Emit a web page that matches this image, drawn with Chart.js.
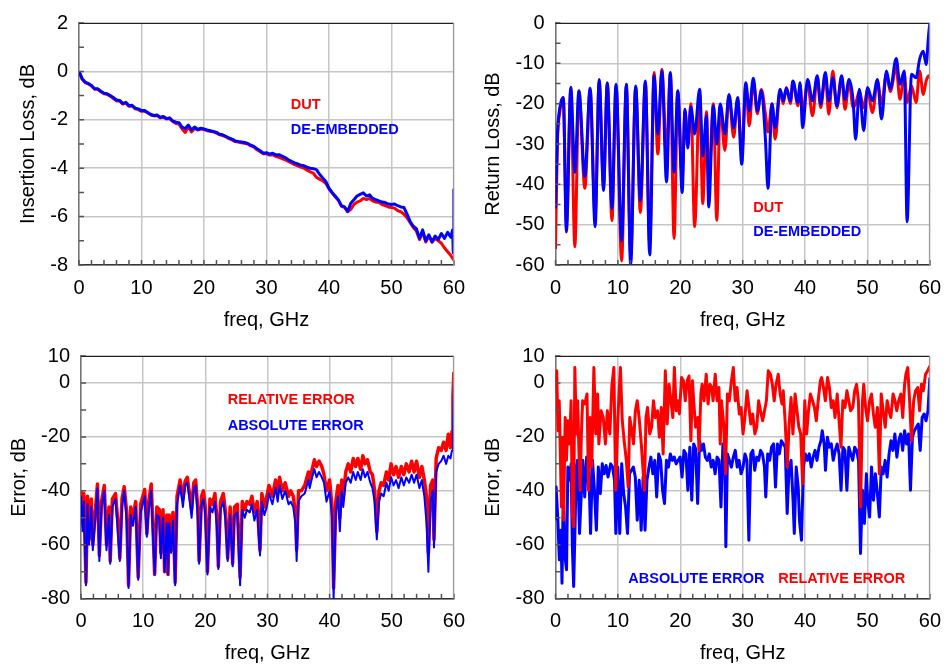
<!DOCTYPE html>
<html>
<head>
<meta charset="utf-8">
<script src="https://cdn.jsdelivr.net/npm/chart.js@4.4.1/dist/chart.umd.min.js"></script>
<style>
  html, body { margin: 0; padding: 0; background: #fff; }
  #wrap { position: relative; width: 952px; height: 666px; }
  canvas { position: absolute; }
</style>
</head>
<body>
<div id="wrap">
  <canvas id="c_il" width="476" height="333" style="left:0;top:0"></canvas>
  <canvas id="c_rl" width="476" height="333" style="left:476px;top:0"></canvas>
  <canvas id="c_err1" width="476" height="333" style="left:0;top:333px"></canvas>
  <canvas id="c_err2" width="476" height="333" style="left:476px;top:333px"></canvas>
</div>
<script>
// ---- insertion loss (top left)
const il_freq = [
  0, 0.5, 1, 1.5, 2, 2.5, 3, 3.5, 4, 4.5,
  5, 5.5, 6, 6.5, 7, 7.5, 8, 8.5, 9, 9.5,
  10, 10.5, 11, 11.5, 12, 12.5, 13, 13.5, 14, 14.5,
  15, 15.5, 16, 16.5, 17, 17.5, 18, 18.5, 19, 19.5,
  20, 20.5, 21, 21.5, 22, 22.5, 23, 23.5, 24, 24.5,
  25, 25.5, 26, 26.5, 27, 27.5, 28, 28.5, 29, 29.5,
  30, 30.5, 31, 31.5, 32, 32.5, 33, 33.5, 34, 34.5,
  35, 35.5, 36, 36.5, 37, 37.5, 38, 38.5, 39, 39.5,
  40, 40.5, 41, 41.5, 42, 42.5, 43, 43.5, 44, 44.5,
  45, 45.5, 46, 46.5, 47, 47.5, 48, 48.5, 49, 49.5,
  50, 50.5, 51, 51.5, 52, 52.5, 53, 53.5, 54, 54.5,
  55, 55.5, 56, 56.5, 57, 57.5, 58, 58.5, 59, 59.5,
  59.8, 59.9, 60
];
const il_deemb = [
  0, -0.3, -0.45, -0.5, -0.58, -0.72, -0.72, -0.82, -0.9, -0.92,
  -1.0, -1.08, -1.18, -1.2, -1.32, -1.28, -1.42, -1.4, -1.52, -1.55,
  -1.62, -1.62, -1.7, -1.78, -1.82, -1.8, -1.9, -1.86, -1.95, -1.92,
  -2.05, -2.1, -2.12, -2.3, -2.36, -2.22, -2.42, -2.3, -2.4, -2.35,
  -2.38, -2.42, -2.45, -2.48, -2.52, -2.6, -2.62, -2.68, -2.75, -2.8,
  -2.87, -2.9, -2.92, -2.94, -2.98, -3.05, -3.1, -3.2, -3.28, -3.38,
  -3.36, -3.42, -3.38, -3.45, -3.44, -3.5, -3.56, -3.65, -3.72, -3.78,
  -3.82, -3.88, -3.9, -3.96, -4.0, -4.02, -4.06, -4.25, -4.4, -4.55,
  -4.82, -5.0, -5.15, -5.3, -5.55, -5.6, -5.78, -5.45, -5.3, -5.15,
  -5.08, -5.02, -5.15, -5.1, -5.25, -5.3, -5.35, -5.4, -5.42, -5.48,
  -5.5, -5.48, -5.55, -5.6, -5.62, -5.9, -6.2, -6.4, -6.5, -6.9,
  -6.55, -7.0, -6.75, -7.05, -6.8, -6.95, -6.7, -6.9, -6.65, -6.85,
  -6.55, -7.5, -4.85
];
const il_dut = [
  0, -0.32, -0.46, -0.52, -0.6, -0.74, -0.74, -0.84, -0.92, -0.95,
  -1.02, -1.12, -1.22, -1.22, -1.35, -1.3, -1.44, -1.43, -1.55, -1.58,
  -1.65, -1.64, -1.72, -1.8, -1.84, -1.82, -1.92, -1.88, -1.97, -1.95,
  -2.07, -2.15, -2.18, -2.38, -2.52, -2.3, -2.5, -2.35, -2.42, -2.38,
  -2.4, -2.45, -2.47, -2.5, -2.55, -2.62, -2.65, -2.7, -2.78, -2.83,
  -2.9, -2.92, -2.95, -2.97, -3.0, -3.08, -3.13, -3.24, -3.32, -3.4,
  -3.4, -3.46, -3.44, -3.52, -3.55, -3.6, -3.65, -3.72, -3.78, -3.85,
  -3.9, -3.95, -4.0, -4.08, -4.15, -4.2, -4.38, -4.45, -4.52, -4.62,
  -4.85, -5.02, -5.18, -5.32, -5.58, -5.62, -5.8, -5.7, -5.5, -5.4,
  -5.35, -5.25, -5.3, -5.25, -5.35, -5.4, -5.42, -5.5, -5.55, -5.6,
  -5.62, -5.65, -5.75, -5.8, -5.9, -6.05, -6.25, -6.45, -6.6, -6.95,
  -6.65, -7.05, -6.8, -7.05, -6.9, -7.0, -7.1, -7.3, -7.45, -7.6,
  -7.72, -7.75, -7.8
];

// ---- return loss (top right)
const rl_freq = [
  0, 0.3, 0.7, 1.25, 1.75, 2.45, 3.1, 3.75, 4.7, 5.55,
  6.35, 7.0, 7.7, 8.3, 9.05, 9.7, 10.6, 11.35, 12.05, 12.85,
  13.6, 14.4, 15.1, 15.8, 16.4, 17.05, 17.8, 18.4, 19.0, 19.6,
  20.3, 20.75, 21.2, 21.7, 22.3, 23.1, 23.6, 24.2, 24.55, 25.3,
  25.85, 26.4, 27.15, 27.8, 28.55, 29.2, 29.85, 30.5, 31.05, 31.7,
  32.35, 33.0, 33.65, 34.05, 34.7, 35.2, 36.0, 36.5, 37.0, 37.65,
  38.05, 38.85, 39.2, 39.6, 40.4, 41.2, 41.95, 42.5, 43.25, 43.8,
  44.45, 45.1, 45.85, 46.4, 47.05, 47.7, 48.1, 48.7, 49.4, 50.0,
  50.8, 51.6, 52.25, 53.05, 53.65, 54.6, 55.2, 55.9, 56.35, 57.05,
  57.8, 58.35, 58.95, 59.4, 59.8, 60
];
const rl_deemb = [
  -46, -28, -21, -18.5, -51.8, -15.9, -37, -16.8, -38, -16.2,
  -50.5, -14, -41.5, -14.8, -46, -15.2, -54, -15.2, -60, -15.6,
  -44, -14.4, -57.5, -13.1, -27.5, -11.9, -39.4, -12.3, -37, -16.8,
  -42, -21.4, -31, -20.8, -27.5, -16.4, -33, -23, -45.6, -20.5,
  -30, -20.1, -27.5, -17.7, -26, -18.5, -35, -14.8, -21.8, -13.7,
  -21.8, -16.8, -29, -41, -20.1, -26, -16.4, -19.3, -16.2, -19.3,
  -14.4, -19.7, -14.8, -26, -14, -19.3, -13.1, -20.1, -12.3, -19.3,
  -13.6, -20.5, -13.1, -18.9, -14, -19.3, -28.8, -16.4, -26.7, -16,
  -19.3, -14, -23.8, -11.9, -16.4, -8.8, -15.2, -11.9, -49.3, -12.7,
  -13.6, -9, -7, -10.3, -2.9, 0
];
const rl_dut = [
  -56, -30, -22, -18.5, -50, -16.5, -55.5, -17, -41, -16.5,
  -48, -14.5, -40, -15, -49, -15.5, -59, -15.5, -58, -15.8,
  -47, -14.8, -55, -12.3, -32.5, -11.5, -32.5, -12.5, -53.4, -17,
  -38, -22, -29, -20, -50.5, -17.5, -44.8, -22, -40, -20,
  -48.9, -20.5, -31.6, -18, -28.3, -19, -32, -15.5, -25.5, -14.5,
  -22.5, -16.5, -22.6, -27, -20, -28.8, -16.8, -20, -16, -20,
  -14.5, -20.5, -15.5, -22, -15, -23, -13.5, -21, -13, -22.6,
  -11.9, -21, -13.5, -21.4, -14.5, -21, -20, -17, -21, -16.5,
  -22.2, -14.5, -20, -12.5, -17, -11.1, -18.9, -12.5, -19.7, -15.6,
  -19.7, -11.9, -17.7, -14.4, -13.1, -13.6
];

// ---- error, first port (bottom left)
const e1_freq = [
  0, 0.25, 0.45, 0.8, 1.05, 1.3, 1.65, 1.9, 2.35, 2.65,
  2.95, 3.3, 3.75, 4.1, 4.5, 4.7, 5.05, 5.55, 5.95, 6.25,
  6.6, 6.95, 7.35, 7.65, 8.0, 8.35, 8.8, 9.2, 9.6, 10.25,
  10.6, 10.9, 11.3, 11.6, 11.85, 12.2, 12.6, 12.85, 13.2, 13.45,
  13.8, 14.0, 14.2, 14.5, 14.8, 15.15, 15.45, 15.95, 16.4, 16.75,
  17.1, 17.4, 17.8, 18.15, 18.45, 18.8, 19.0, 19.4, 19.7, 20.0,
  20.35, 20.75, 21.15, 21.55, 21.85, 22.1, 22.45, 22.9, 23.25, 23.6,
  24.0, 24.4, 24.7, 25.15, 25.6, 25.95, 26.35, 26.7, 27.15, 27.5,
  27.9, 28.35, 28.8, 29.1, 29.5, 29.9, 30.25, 30.8, 31.3, 31.65,
  31.95, 32.4, 32.85, 33.4, 33.75, 34.15, 34.5, 34.7, 35.0, 35.45,
  36.0, 36.6, 36.8, 37.2, 37.55, 37.9, 38.3, 38.75, 39.1, 39.5,
  40.0, 40.4, 40.65, 41.0, 41.35, 41.65, 41.95, 42.2, 42.6, 43.0,
  43.4, 43.8, 44.2, 44.55, 45.0, 45.35, 45.7, 46.1, 46.55, 46.9,
  47.25, 47.6, 47.95, 48.3, 48.7, 49.15, 49.5, 49.9, 50.3, 50.7,
  51.1, 51.55, 51.95, 52.35, 52.8, 53.2, 53.6, 54.0, 54.45, 54.85,
  55.25, 55.6, 55.9, 56.25, 56.6, 56.8, 57.15, 57.55, 57.95, 58.35,
  58.75, 59.1, 59.45, 59.7, 59.85, 60
];
const e1_rel = [
  -40, -52, -41, -74, -42, -58, -43, -60, -46, -37.5,
  -64, -44, -38, -60, -46, -66, -43, -41, -52, -65,
  -43, -38.5, -48, -75, -46, -50, -44, -72, -45, -39.5,
  -56, -44, -37.5, -55, -71, -46, -47, -63, -47, -70,
  -49, -71, -49, -62, -48, -74, -42, -36, -43, -36.5,
  -35, -40, -47, -37, -36, -47, -66, -42, -40, -46,
  -70, -43, -45, -41, -50, -68, -44, -41, -48, -65,
  -46, -67, -46, -45, -72, -44, -47, -44, -45, -42,
  -48, -44, -62, -41, -46, -42, -38, -42, -36, -41,
  -35, -40, -37, -42, -40, -42, -48, -62, -40, -40,
  -38, -33, -36, -32, -28.5, -31, -29, -31, -34, -40,
  -36, -46, -76, -44, -38, -50, -36, -42, -33, -30,
  -33, -28, -31, -28, -32, -27, -30, -28.5, -33, -34,
  -40, -55, -40, -37, -38, -33, -36, -30, -34, -31,
  -35, -31, -34, -30, -33, -29, -33, -29, -35, -31,
  -36, -42, -63, -38, -36, -58, -28, -24, -25, -22,
  -25, -19, -24, -18, -5, 4
];
const e1_abs = [
  -42, -55, -44, -75, -45, -60, -46, -62, -49, -39,
  -66, -46, -40, -62, -49, -67, -46, -43, -56, -66,
  -46, -40, -51, -76, -49, -53, -46, -73, -48, -42,
  -57, -47, -40, -58, -71, -49, -50, -65, -50, -70,
  -52, -71, -52, -63, -51, -75, -45, -38, -46, -38,
  -37, -42, -50, -39, -38, -50, -67, -45, -43, -49,
  -71, -46, -48, -44, -53, -69, -47, -44, -51, -66,
  -49, -68, -49, -48, -75, -47, -50, -47, -48, -45,
  -51, -47, -64, -44, -49, -46, -41, -45, -39, -44,
  -38, -43, -40, -45, -44, -46, -52, -66, -44, -42,
  -41, -36, -39, -35, -32, -35, -33, -35, -37, -44,
  -40, -50, -80, -48, -42, -55, -40, -46, -37, -35,
  -37, -33, -36, -33, -36, -32, -35, -33, -37, -39,
  -44, -58, -44, -41, -42, -37, -40, -35, -38, -36,
  -39, -35, -38, -35, -37, -34, -37, -34, -39, -36,
  -42, -52, -70, -44, -40, -61, -33, -30, -29, -27,
  -30, -27, -28, -25, -15, -1
];

// ---- error, second port (bottom right)
const e2_rel_freq = [
  0, 0.2, 0.4, 0.6, 0.95, 1.15, 1.3, 1.55, 1.75, 2.0,
  2.25, 2.5, 2.7, 2.9, 3.1, 3.35, 3.55, 3.75, 3.95, 4.15,
  4.35, 4.7, 5.05, 5.3, 5.55, 5.8, 6.15, 6.45, 6.75, 6.95,
  7.3, 7.65, 8.0, 8.3, 8.7, 9.05, 9.35, 9.65, 10.0, 10.4,
  10.7, 11.0, 11.35, 11.65, 11.9, 12.15, 12.5, 12.8, 13.1, 13.4,
  13.75, 14.0, 14.25, 14.5, 14.75, 15.1, 15.4, 15.7, 16.0, 16.35,
  16.65, 16.95, 17.25, 17.6, 17.9, 18.2, 18.5, 18.8, 19.05, 19.35,
  19.65, 19.85, 20.2, 20.5, 20.8, 21.1, 21.4, 21.7, 21.95, 22.15,
  22.45, 22.8, 23.0, 23.3, 23.5, 23.8, 24.15, 24.45, 24.75, 25.05,
  25.25, 25.6, 25.9, 26.2, 26.4, 26.6, 26.95, 27.25, 27.55, 27.85,
  28.2, 28.5, 28.8, 29.1, 29.45, 29.75, 30.05, 30.35, 30.7, 31.0,
  31.3, 31.6, 31.95, 32.25, 32.55, 32.85, 33.2, 33.5, 33.8, 34.1,
  34.45, 34.75, 35.05, 35.35, 35.7, 36.0, 36.3, 36.5, 36.8, 37.15,
  37.45, 37.75, 38.05, 38.4, 38.7, 39.0, 39.3, 39.6, 39.95, 40.25,
  40.55, 40.85, 41.2, 41.5, 41.8, 42.1, 42.45, 42.65, 42.95, 43.25,
  43.6, 43.9, 44.2, 44.5, 44.8, 45.15, 45.45, 45.75, 46.05, 46.4,
  46.7, 47.0, 47.3, 47.65, 47.95, 48.25, 48.55, 48.9, 49.2, 49.4,
  49.7, 50.0, 50.35, 50.65, 50.95, 51.25, 51.6, 51.9, 52.2, 52.5,
  52.85, 53.15, 53.45, 53.75, 54.1, 54.4, 54.7, 55.0, 55.35, 55.65,
  55.95, 56.15, 56.45, 56.75, 57.05, 57.4, 57.7, 58.05, 58.35, 58.65,
  58.95, 59.3, 59.65, 60
];
const e2_rel = [
  -3.5, 4.5, -17.7, -6.6, -46, -20.1, -50.9, -12.8, -28.7, -14,
  -22.6, -6.6, -48.4, -53.3, 5.7, -18.9, -6.6, -25, -39.8, -18.9,
  -6.6, -7.8, -4.1, -39.8, -12.8, -31.2, 5.7, -18.9, -4.1, -22.6,
  -10.3, -12.8, -22.6, -10.3, -18.9, -0.5, 5.7, -39.8, -12.8, 5.7,
  -14, -21.4, -28.7, -38.6, -12.8, -16.4, -22.6, -10.3, -6.6, -12.8,
  -22.6, -31.2, -39.8, -12.8, -9.1, -18.9, -16.4, -6.6, -12.8, -10.3,
  -20.1, -9.1, -26.3, 4.5, -15.2, -0.5, -6.6, -12.8, 5.7, -10.3,
  -6.6, -11.5, 2, 0.8, -6.6, 0.8, 2.6, -21.4, 0.8, -6.6,
  -16.4, -12.8, -25, -4.1, -0.5, -6.6, 3.2, -7.8, -0.5, -1.7,
  -6.6, 3.2, -6.6, -1.7, -22.6, -6.6, -15.2, -33.7, -4.1, -6.6,
  0.8, 5.7, -6.6, -1.7, -11.5, -9.1, -18.9, -12.8, -2.9, -9.1,
  -15.2, -11.5, -18.9, -16.4, -6.6, -10.3, -14, -10.3, -6.6, 4.5,
  3.2, -0.5, -6.6, -0.5, 3.2, -4.1, -7.8, -2.9, -14, -31.2,
  -15.2, -5.4, -18.9, -4.1, -10.3, -16.4, -18.9, -37.4, -6.6, -18.9,
  -10.3, -4.1, -6.6, -9.1, -14, -6.6, 0.8, 2, -1.7, -6.6,
  2, -1.7, -9.1, -6.6, -12.8, -4.1, -14, -23.8, -6.6, -9.1,
  -2.9, -6.6, -10.3, -9.1, -2.9, -0.5, -6.6, -46, -6.6, -0.5,
  -9.1, -14, -6.6, -4.1, -11.5, -16.4, -9.1, -33.7, -4.1, -10.3,
  -16.4, -6.6, -10.3, -12.8, -4.1, -6.6, -10.3, -6.6, -4.1, -12.8,
  -0.5, 3.2, 5.7, -6.6, -21.4, -6.6, -2.9, -1.7, -10.3, -0.5,
  -2.9, 3.2, 4.5, 6.3
];
const e2_abs_freq = [
  0, 0.1, 0.36, 0.62, 0.88, 1.04, 1.25, 1.46, 1.77, 1.98,
  2.29, 2.5, 2.7, 2.91, 3.12, 3.33, 3.54, 3.85, 4.16, 4.37,
  4.68, 4.99, 5.3, 5.62, 5.93, 6.24, 6.55, 6.86, 7.18, 7.49,
  7.8, 8.11, 8.42, 8.84, 9.15, 9.46, 9.67, 9.98, 10.3, 10.61,
  10.92, 11.23, 11.54, 11.86, 12.17, 12.48, 12.79, 13.1, 13.42, 13.73,
  14.04, 14.35, 14.66, 14.98, 15.29, 15.6, 15.91, 16.22, 16.54, 16.85,
  17.16, 17.47, 17.78, 18.1, 18.41, 18.72, 19.03, 19.34, 19.66, 19.97,
  20.28, 20.59, 20.9, 21.22, 21.53, 21.84, 22.15, 22.46, 22.78, 23.09,
  23.4, 23.71, 24.02, 24.34, 24.65, 24.96, 25.27, 25.58, 25.9, 26.21,
  26.52, 26.83, 27.14, 27.3, 27.56, 27.87, 28.18, 28.5, 28.81, 29.12,
  29.43, 29.74, 30.06, 30.37, 30.68, 30.99, 31.3, 31.62, 31.93, 32.24,
  32.55, 32.87, 33.18, 33.49, 33.7, 34.01, 34.32, 34.63, 34.95, 35.26,
  35.57, 35.88, 36.19, 36.51, 36.82, 37.13, 37.44, 37.75, 38.07, 38.27,
  38.58, 38.9, 39.1, 39.42, 39.73, 40.04, 40.35, 40.67, 40.98, 41.29,
  41.6, 41.91, 42.23, 42.54, 42.75, 43.06, 43.27, 43.58, 43.89, 44.2,
  44.51, 44.83, 45.14, 45.45, 45.76, 46.07, 46.39, 46.7, 47.01, 47.32,
  47.63, 47.95, 48.26, 48.57, 48.88, 49.19, 49.51, 49.82, 50.03, 50.34,
  50.65, 50.96, 51.27, 51.59, 51.9, 52.21, 52.52, 52.83, 53.15, 53.46,
  53.77, 54.08, 54.39, 54.71, 55.02, 55.33, 55.64, 55.95, 56.27, 56.58,
  56.89, 57.2, 57.51, 57.83, 58.14, 58.45, 58.76, 59.07, 59.39, 59.7,
  60
];
const e2_abs = [
  -50.9, -38.6, -49.7, -65.6, -54.6, -74.3, -39.8, -63.2, -69.3, -31.2,
  -36.1, -30, -60.7, -75.5, -54.6, -31.2, -28.7, -55.8, -39.8, -28.7,
  -42.3, -27.5, -28.7, -55.8, -28.7, -39.8, -54.6, -31.2, -41, -30,
  -33.7, -30.6, -34.9, -30, -31.2, -36.1, -55.8, -31.2, -55.8, -30,
  -41, -46, -55.8, -33.7, -32.4, -31.2, -34.9, -50.9, -36.1, -54.6,
  -34.9, -54.6, -36.1, -31.2, -27.5, -33.7, -28.7, -42.3, -26.3, -28.7,
  -39.8, -44.7, -28.7, -31.2, -26.3, -28.7, -27.5, -30, -28.7, -27.5,
  -34.9, -25, -26.3, -39.8, -23.8, -43.5, -22.6, -24.4, -44.7, -21.4,
  -25, -22.6, -27.5, -28.7, -26.3, -31.2, -28.7, -33.7, -27.5, -28.7,
  -46, -22.6, -30, -60.7, -26.3, -28.7, -31.2, -27.5, -25, -31.2,
  -28.7, -33.7, -31.2, -26.3, -28.7, -58.3, -26.3, -25, -32.4, -27.5,
  -28.7, -25, -26.3, -31.2, -42.3, -26.3, -28.7, -23.8, -22.6, -38.6,
  -22.6, -26.3, -21.4, -22.6, -23.8, -48.4, -31.2, -28.7, -43.5, -55.8,
  -31.2, -38.6, -50.9, -58.3, -31.2, -26.3, -28.7, -26.3, -31.2, -27.5,
  -25, -28.7, -23.8, -21.4, -17.7, -22.6, -32.4, -20.1, -23.8, -22.6,
  -28.7, -25, -22.6, -26.3, -39.8, -23.8, -25, -39.8, -23.8, -26.3,
  -28.7, -23.8, -25, -28.7, -63.2, -39.8, -52.1, -33.7, -43.5, -49.7,
  -31.2, -43.5, -33.7, -41, -49.7, -31.2, -33.7, -28.7, -34.9, -26.3,
  -21.4, -25, -18.9, -27.5, -21.4, -18.9, -25, -17.7, -22.6, -18.9,
  -39.8, -20.1, -17.7, -16.4, -15.2, -25, -12.8, -11.5, -14, -10.3,
  2
];

const RED = "#ff0000";
const BLUE = "#0000ff";
const GRID = "#c6c6c6";

Chart.defaults.font.family = '"Liberation Sans", Arial, sans-serif';
Chart.defaults.color = "#000";

function pts(xs, ys) {
  return xs.map((x, i) => ({ x: x, y: ys[i] }));
}

// inward tick marks plus top/right frame lines
const frame_plugin = {
  id: "frame",
  afterDatasetsDraw(chart) {
    const { ctx, chartArea: a } = chart;
    const xs = chart.scales.x;
    const ys = chart.scales.y;
    ctx.save();
    ctx.strokeStyle = "#555";
    ctx.lineWidth = 1.5;
    ctx.beginPath();
    xs.ticks.forEach((t) => {
      const px = xs.getPixelForValue(t.value);
      ctx.moveTo(px, a.bottom);
      ctx.lineTo(px, a.bottom - 5);
    });
    ys.ticks.forEach((t) => {
      const py = ys.getPixelForValue(t.value);
      ctx.moveTo(a.left, py);
      ctx.lineTo(a.left + 5, py);
    });
    ctx.stroke();
    ctx.lineWidth = 1;
    ctx.strokeStyle = "#222";
    ctx.beginPath();
    ctx.moveTo(a.left, a.top + 0.5);
    ctx.lineTo(a.right, a.top + 0.5);
    ctx.stroke();
    ctx.strokeStyle = "#999";
    ctx.beginPath();
    ctx.moveTo(a.right - 0.5, a.top);
    ctx.lineTo(a.right - 0.5, a.bottom);
    ctx.stroke();
    ctx.restore();
  },
};

// coloured labels inside the plot
const notes_plugin = {
  id: "notes",
  afterDatasetsDraw(chart, args, opts) {
    const ctx = chart.ctx;
    ctx.save();
    ctx.font = 'bold 14.5px "Liberation Sans", Arial, sans-serif';
    ctx.textAlign = "left";
    ctx.textBaseline = "middle";
    (opts.items || []).forEach((n) => {
      ctx.fillStyle = n.color;
      ctx.fillText(n.text, chart.scales.x.getPixelForValue(n.x), chart.scales.y.getPixelForValue(n.y));
    });
    ctx.restore();
  },
};

function makePanel(id, p) {
  return new Chart(document.getElementById(id), {
    type: "line",
    data: { datasets: p.datasets },
    options: {
      responsive: false,
      animation: false,
      layout: { padding: { top: 22, right: p.padRight, left: 0, bottom: 0 } },
      elements: { point: { radius: 0 }, line: { borderJoinStyle: "round" } },
      plugins: {
        legend: { display: false },
        tooltip: { enabled: false },
        notes: { items: p.notes },
      },
      scales: {
        x: {
          type: "linear",
          min: 0,
          max: 60,
          ticks: {
            stepSize: 2,
            autoSkip: false,
            maxRotation: 0,
            padding: 11,
            font: { size: 20 },
            callback: (v) => (v % 10 === 0 ? v : ""),
          },
          grid: {
            drawTicks: false,
            lineWidth: 1.5,
            color: (c) => (c.tick.value % 10 === 0 ? GRID : "rgba(0,0,0,0)"),
          },
          border: { color: "#333", width: 1.5 },
          title: { display: true, text: "freq, GHz", font: { size: 20 }, padding: { top: 0, bottom: 0.5 } },
          afterFit: (s) => {
            s.height = p.xHeight;
          },
        },
        y: {
          min: p.yMin,
          max: p.yMax,
          ticks: {
            stepSize: p.yStep,
            autoSkip: false,
            padding: 11,
            font: { size: 20 },
            callback: (v) => (p.yMajor(v) ? v : ""),
          },
          grid: {
            drawTicks: false,
            lineWidth: 1.5,
            color: (c) => (p.yMajor(c.tick.value) ? GRID : "rgba(0,0,0,0)"),
          },
          border: { color: "#777", width: 1.5 },
          title: { display: true, text: p.yTitle, font: { size: 20 }, padding: { top: p.yTitlePad, bottom: 0 } },
          afterFit: (s) => {
            s.width = p.yWidth;
          },
        },
      },
    },
    plugins: [frame_plugin, notes_plugin],
  });
}

makePanel("c_il", {
  yMin: -8, yMax: 2, yStep: 1,
  yMajor: (v) => v % 2 === 0,
  yTitle: "Insertion Loss, dB", yTitlePad: 16, yWidth: 79,
  xHeight: 68, padRight: 13,
  datasets: [
    { data: pts(il_freq, il_deemb), borderColor: BLUE, borderWidth: 3 },
    { data: pts(il_freq, il_dut), borderColor: RED, borderWidth: 3 },
  ],
  notes: [
    { text: "DUT", color: RED, x: 33.9, y: -1.4 },
    { text: "DE-EMBEDDED", color: BLUE, x: 33.9, y: -2.44 },
  ],
});

makePanel("c_rl", {
  yMin: -60, yMax: 0, yStep: 5,
  yMajor: (v) => v % 10 === 0,
  yTitle: "Return Loss, dB", yTitlePad: 5, yWidth: 79.5,
  xHeight: 68, padRight: 12,
  datasets: [
    { data: pts(rl_freq, rl_deemb), borderColor: BLUE, borderWidth: 3, cubicInterpolationMode: "monotone" },
    { data: pts(rl_freq, rl_dut), borderColor: RED, borderWidth: 3, cubicInterpolationMode: "monotone" },
  ],
  notes: [
    { text: "DUT", color: RED, x: 31.7, y: -45.75 },
    { text: "DE-EMBEDDED", color: BLUE, x: 31.7, y: -51.9 },
  ],
});

makePanel("c_err1", {
  yMin: -80, yMax: 10, yStep: 10,
  yMajor: (v) => v === 10 || v % 20 === 0,
  yTitle: "Error, dB", yTitlePad: 7, yWidth: 81,
  xHeight: 67.3, padRight: 10,
  datasets: [
    { data: pts(e1_freq, e1_abs), borderColor: BLUE, borderWidth: 2 },
    { data: pts(e1_freq, e1_rel), borderColor: RED, borderWidth: 3.5 },
  ],
  notes: [
    { text: "RELATIVE ERROR", color: RED, x: 23.6, y: -6.5 },
    { text: "ABSOLUTE ERROR", color: BLUE, x: 23.6, y: -15.8 },
  ],
});

makePanel("c_err2", {
  yMin: -80, yMax: 10, yStep: 10,
  yMajor: (v) => v === 10 || v % 20 === 0,
  yTitle: "Error, dB", yTitlePad: 5.5, yWidth: 79.5,
  xHeight: 67.3, padRight: 12,
  datasets: [
    { data: pts(e2_rel_freq, e2_rel), borderColor: RED, borderWidth: 3 },
    { data: pts(e2_abs_freq, e2_abs), borderColor: BLUE, borderWidth: 3 },
  ],
  notes: [
    { text: "ABSOLUTE ERROR", color: BLUE, x: 11.67, y: -72.7 },
    { text: "RELATIVE ERROR", color: RED, x: 35.7, y: -72.7 },
  ],
});
</script>
</body>
</html>
